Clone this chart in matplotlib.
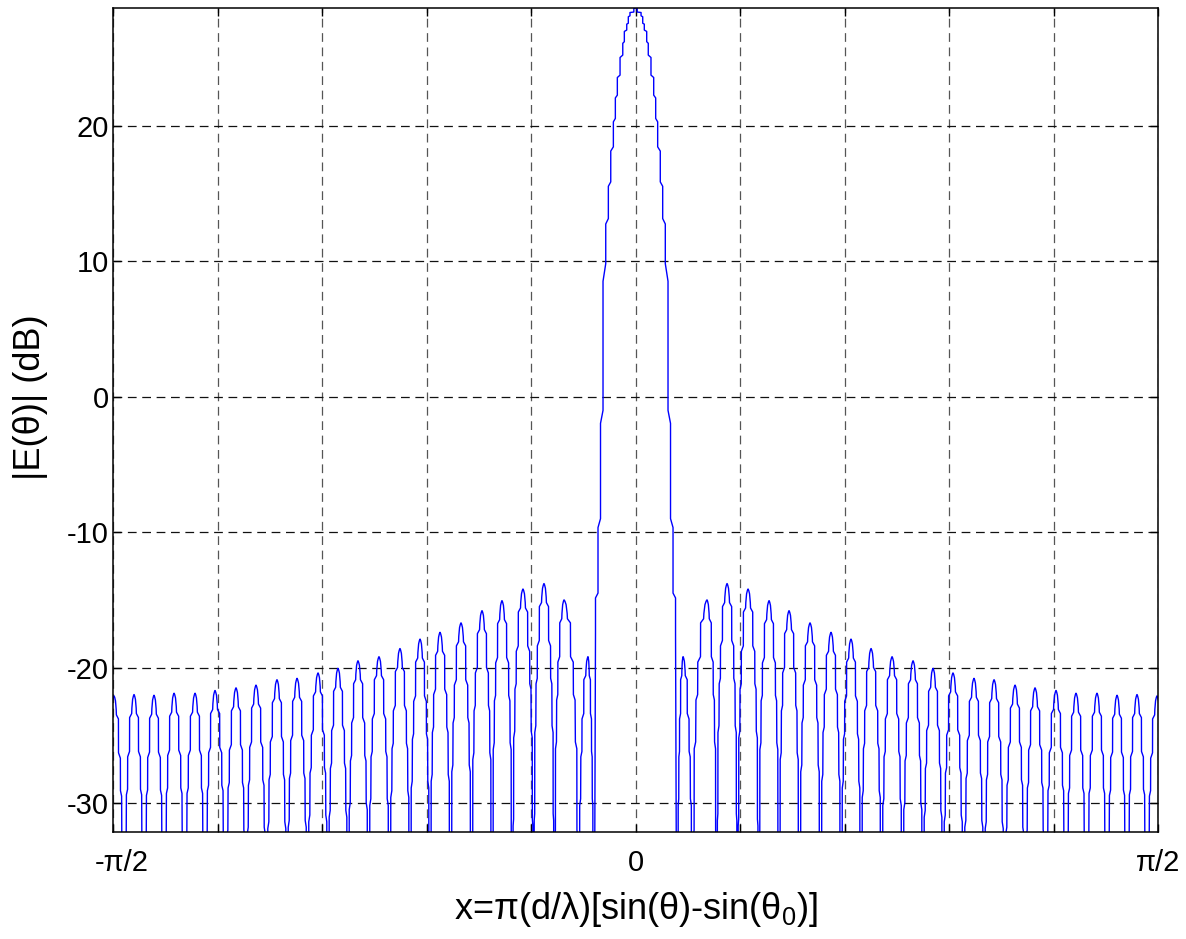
import numpy as np
import matplotlib
matplotlib.use("Agg")
import matplotlib.pyplot as plt
from matplotlib.transforms import ScaledTranslation

# values; x is stored in units of pi
MAIN_PEAK_DB = 28.73
# main lobe, right half: pixel-column positions and the dB level reached at each column
MAIN_COL_X = [0.0016, 0.0053, 0.0069, 0.0084, 0.0107, 0.0122, 0.0148, 0.0174, 0.0193,
              0.0212, 0.0237, 0.0260, 0.0285, 0.0311, 0.0335, 0.0359, 0.0383]
MAIN_COL_DB = [28.43, 28.15, 27.6, 27.1, 26.24, 25.25, 23.77, 22.29, 20.57,
               18.47, 15.88, 13.17, 9.84, -1.0, -9.0, -14.5, -17.5]

# side lobes, right half (the pattern is symmetric)
SIDE_PEAK_X = [0.0455, 0.0684, 0.0876, 0.1077, 0.1278, 0.1469, 0.1670, 0.1871, 0.2062,
               0.2254, 0.2455, 0.2656, 0.2847, 0.3038, 0.3239, 0.3431, 0.3632, 0.3823,
               0.4024, 0.4215, 0.4416, 0.4608, 0.4799, 0.4990]
SIDE_PEAK_DB = [-19.2, -15.0, -13.8, -14.2, -15.06, -15.8, -16.7, -17.4, -17.9,
                -18.6, -19.2, -19.5, -20.06, -20.4, -20.8, -20.9, -21.3, -21.5,
                -21.7, -21.9, -21.9, -22.05, -22.0, -22.1]
NULL_X = [0.0402, 0.0545, 0.0777, 0.0976, 0.1178, 0.1373, 0.1569, 0.1770, 0.1967,
          0.2158, 0.2354, 0.2555, 0.2751, 0.2943, 0.3139, 0.3335, 0.3531, 0.3727,
          0.3923, 0.4120, 0.4316, 0.4512, 0.4703, 0.4895, 0.5096]
NULL_DB = -60.0

# shape of one side lobe (half), read from a typical lobe:
# offset (0.5 = at the null), drop below the peak in dB
LOBE_F = [0.0, 0.03, 0.07, 0.107, 0.117, 0.22, 0.224, 0.317, 0.322, 0.38, 0.39, 0.44, 0.444, 0.468]
LOBE_DY = [0.0, -0.1, -0.35, -1.0, -1.4, -1.7, -4.2, -4.6, -7.0, -7.4, -10.5, -11.0, -17.0, -17.5]

Y_TICKS = [-30, -20, -10, 0, 10, 20]
X_TICK_LABELS = {-5: '-π/2', 0: '0', 5: 'π/2'}


def right_half():
    xs = [0.0]
    ys = [MAIN_PEAK_DB]
    prev = MAIN_PEAK_DB
    for c, b in zip(MAIN_COL_X, MAIN_COL_DB):
        # short slanted jog onto the next pixel column, then straight down
        xs += [c, c]
        ys += [prev - 0.12 * (prev - b), b]
        prev = b
    xs.append(NULL_X[0])
    ys.append(NULL_DB)
    for k, (xp, pk) in enumerate(zip(SIDE_PEAK_X, SIDE_PEAK_DB)):
        nl, nr = NULL_X[k], NULL_X[k + 1]
        for f, dy in zip(LOBE_F[::-1], LOBE_DY[::-1]):
            xs.append(xp - f / 0.5 * (xp - nl))
            ys.append(pk + dy)
        for f, dy in zip(LOBE_F[1:], LOBE_DY[1:]):
            xs.append(xp + f / 0.5 * (nr - xp))
            ys.append(pk + dy)
        xs.append(nr)
        ys.append(NULL_DB)
    return np.array(xs), np.array(ys)


def draw_graph():
    plt.rcParams['font.family'] = ['Liberation Sans', 'DejaVu Sans']
    plt.rcParams['mathtext.fontset'] = 'custom'
    plt.rcParams['mathtext.rm'] = 'Liberation Sans'
    plt.rcParams['mathtext.it'] = 'Liberation Sans'
    plt.rcParams['axes.unicode_minus'] = False

    xr, yr = right_half()
    x = np.concatenate([-xr[::-1], xr]) * np.pi
    y = np.concatenate([yr[::-1], yr])

    fig = plt.figure(figsize=(11.86, 9.39), dpi=100)
    ax = fig.add_axes([0.0953, 0.1140, 0.8811, 0.8775])
    ax.plot(x, y, color='#0000ff', lw=1.0)

    ax.set_xlim(-np.pi / 2, np.pi / 2)
    ax.set_ylim(-32.15, MAIN_PEAK_DB)
    ks = np.arange(-5, 6)
    ax.set_xticks(ks * np.pi / 10)
    ax.set_xticklabels([X_TICK_LABELS.get(k, '') for k in ks])
    ax.set_yticks(Y_TICKS)
    ax.tick_params(direction='in', top=True, right=True, length=6, width=1,
                   labelsize=21, colors='black')
    ax.tick_params(axis='x', pad=12)
    ax.tick_params(axis='y', pad=3)

    # the left-most label sits a little to the right of its tick in the original
    lab = ax.xaxis.get_major_ticks()[0].label1
    lab.set_transform(lab.get_transform() + ScaledTranslation(0.09, 0, fig.dpi_scale_trans))

    ax.grid(True, axis='x', color='#555555', ls=(0, (7, 4.5)), lw=0.9)
    ax.grid(True, axis='y', color='#111111', ls=(0, (7, 4.5)), lw=0.9)
    for s in ax.spines.values():
        s.set_linewidth(1.1)

    ax.set_xlabel('x=π(d/λ)[sin(θ)-sin(θ$_0$)]', fontsize=26)
    ax.set_ylabel('|E(θ)| (dB)', fontsize=26)
    ax.xaxis.set_label_coords(0.5, -0.071)
    ax.yaxis.set_label_coords(-0.062, 0.528)

    fig.savefig('out.png', dpi=100)


def main():
    draw_graph()


if __name__ == "__main__":
    main()
